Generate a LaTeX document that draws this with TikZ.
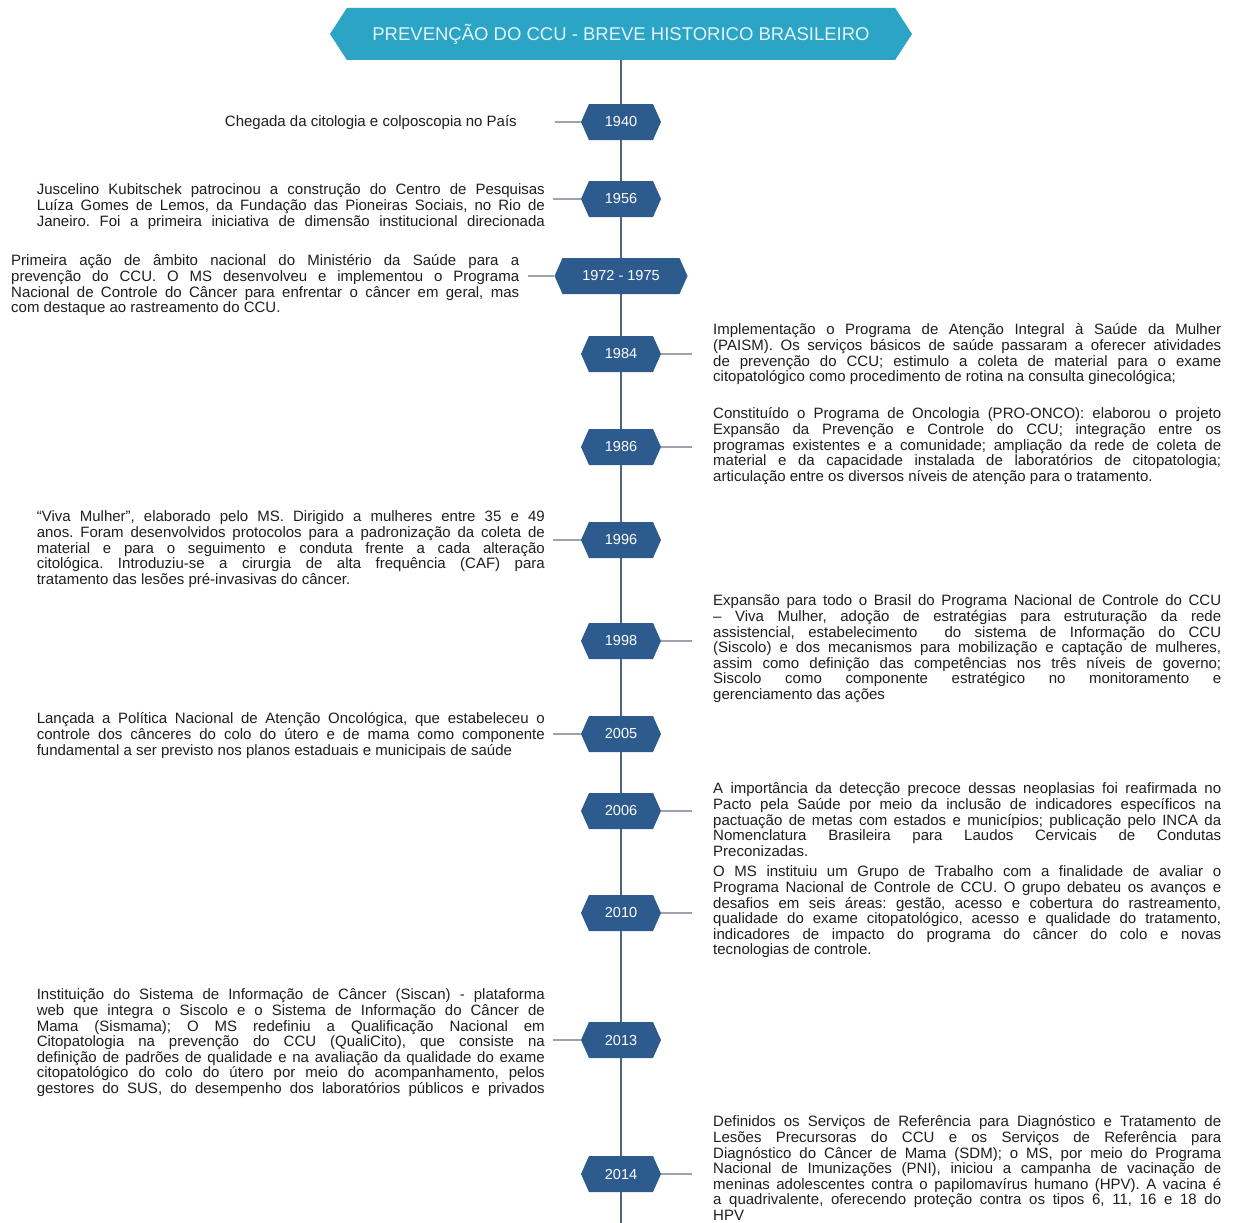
\documentclass[tikz,border=0pt]{standalone}
\usepackage{fontspec}
\setmainfont{Liberation Sans}
\usetikzlibrary{shapes.symbols}
\definecolor{titlefill}{HTML}{2BA4C6}
\definecolor{titletext}{HTML}{E2F5FA}
\definecolor{yearfill}{HTML}{2D5B8E}
\definecolor{axiscol}{HTML}{4E6282}
\definecolor{conncol}{HTML}{9AA3AE}
\definecolor{bodycol}{HTML}{1E1E1E}
\newcommand{\loosepar}{\frenchspacing \tolerance=10000 \hyphenpenalty=10000 \strut}
\begin{document}
\begin{tikzpicture}[x=1pt,y=-1pt,
  titlebox/.style={shape=signal, signal to=east and west, signal pointer angle=114, fill=titlefill, text=titletext, minimum width=582, minimum height=52, inner sep=0, font=\fontsize{18.5}{20}\selectfont},
  yearbox/.style={shape=signal, signal to=east and west, signal pointer angle=132, fill=yearfill, text=white, minimum width=80, minimum height=36, inner sep=0, font=\fontsize{14.5}{16}\selectfont},
  desc/.style={inner sep=0, text=bodycol, text width=508, align=justify, font=\fontsize{15}{15.5}\selectfont},
  single/.style={inner sep=0, text=bodycol, font=\fontsize{15}{15.5}\selectfont},
  connector/.style={draw=conncol, line width=1.5},
  axisline/.style={draw=axiscol, line width=2}]
\useasboundingbox (0,0) rectangle (1235,1223);
\fill[white] (0,0) rectangle (1235,1223);

\node[titlebox] (title) at (621,34) {PREVENÇÃO DO CCU - BREVE HISTORICO BRASILEIRO};
\coordinate (axisend) at (621,1230);
\draw[axisline] (title.south) -- (axisend);

% year boxes
\node[yearbox] (y1940) at (621,122) {1940};
\node[yearbox] (y1956) at (621,199) {1956};
\node[yearbox, minimum width=133] (y1972) at (621,276) {1972 - 1975};
\node[yearbox] (y1984) at (621,354) {1984};
\node[yearbox] (y1986) at (621,447) {1986};
\node[yearbox] (y1996) at (621,540) {1996};
\node[yearbox] (y1998) at (621,641) {1998};
\node[yearbox] (y2005) at (621,734) {2005};
\node[yearbox] (y2006) at (621,811) {2006};
\node[yearbox] (y2010) at (621,913) {2010};
\node[yearbox] (y2013) at (621,1040) {2013};
\node[yearbox] (y2014) at (621,1174) {2014};

% connector ends
\coordinate (e1940) at (555,122);
\coordinate (e1956) at (553,199);
\coordinate (e1972) at (528,276);
\coordinate (e1984) at (692,354);
\coordinate (e1986) at (692,447);
\coordinate (e1996) at (553,540);
\coordinate (e1998) at (692,641);
\coordinate (e2005) at (553,734);
\coordinate (e2006) at (692,811);
\coordinate (e2010) at (692,913);
\coordinate (e2013) at (553,1040);
\coordinate (e2014) at (692,1174);

\draw[connector] (y1940.west) -- (e1940);
\draw[connector] (y1956.west) -- (e1956);
\draw[connector] (y1972.west) -- (e1972);
\draw[connector] (y1984.east) -- (e1984);
\draw[connector] (y1986.east) -- (e1986);
\draw[connector] (y1996.west) -- (e1996);
\draw[connector] (y1998.east) -- (e1998);
\draw[connector] (y2005.west) -- (e2005);
\draw[connector] (y2006.east) -- (e2006);
\draw[connector] (y2010.east) -- (e2010);
\draw[connector] (y2013.west) -- (e2013);
\draw[connector] (y2014.east) -- (e2014);

% texts
\node[single, anchor=base east] (t1940) at (517,126) {Chegada da citologia e colposcopia no País};

\node[desc, anchor=north east] (t1956) at (545,183) {\parfillskip=0pt \loosepar Juscelino Kubitschek patrocinou a construção do Centro de Pesquisas\linebreak Luíza Gomes de Lemos, da Fundação das Pioneiras Sociais, no Rio de\linebreak Janeiro. Foi a primeira iniciativa de dimensão institucional direcionada\par};

\node[desc, anchor=north west] (t1972) at (11,254) {\loosepar Primeira ação de âmbito nacional do Ministério da Saúde para a\linebreak prevenção do CCU. O MS desenvolveu e implementou o Programa\linebreak Nacional de Controle do Câncer para enfrentar o câncer em geral, mas\linebreak com destaque ao rastreamento do CCU.};

\node[desc, anchor=north west] (t1984) at (713,323) {\loosepar Implementação o Programa de Atenção Integral à Saúde da Mulher\linebreak (PAISM). Os serviços básicos de saúde passaram a oferecer atividades\linebreak de prevenção do CCU; estimulo a coleta de material para o exame\linebreak citopatológico como procedimento de rotina na consulta ginecológica;};

\node[desc, anchor=north west] (t1986) at (713,407) {\loosepar Constituído o Programa de Oncologia (PRO-ONCO): elaborou o projeto\linebreak Expansão da Prevenção e Controle do CCU; integração entre os\linebreak programas existentes e a comunidade; ampliação da rede de coleta de\linebreak material e da capacidade instalada de laboratórios de citopatologia;\linebreak articulação entre os diversos níveis de atenção para o tratamento.};

\node[desc, anchor=north east] (t1996) at (545,510) {\loosepar “Viva Mulher”, elaborado pelo MS. Dirigido a mulheres entre 35 e 49\linebreak anos. Foram desenvolvidos protocolos para a padronização da coleta de\linebreak material e para o seguimento e conduta frente a cada alteração\linebreak citológica. Introduziu-se a cirurgia de alta frequência (CAF) para\linebreak tratamento das lesões pré-invasivas do câncer.};

\node[desc, anchor=north west] (t1998) at (713,594) {\loosepar Expansão para todo o Brasil do Programa Nacional de Controle do CCU\linebreak – Viva Mulher, adoção de estratégias para estruturação da rede\linebreak assistencial, estabelecimento\ \ do sistema de Informação do CCU\linebreak (Siscolo) e dos mecanismos para mobilização e captação de mulheres,\linebreak assim como definição das competências nos três níveis de governo;\linebreak Siscolo como componente estratégico no monitoramento e\linebreak gerenciamento das ações};

\node[desc, anchor=north east] (t2005) at (545,712) {\loosepar Lançada a Política Nacional de Atenção Oncológica, que estabeleceu o\linebreak controle dos cânceres do colo do útero e de mama como componente\linebreak fundamental a ser previsto nos planos estaduais e municipais de saúde};

\node[desc, anchor=north west] (t2006) at (713,782) {\loosepar A importância da detecção precoce dessas neoplasias foi reafirmada no\linebreak Pacto pela Saúde por meio da inclusão de indicadores específicos na\linebreak pactuação de metas com estados e municípios; publicação pelo INCA da\linebreak Nomenclatura Brasileira para Laudos Cervicais de Condutas\linebreak Preconizadas.};

\node[desc, anchor=north west] (t2010) at (713,865) {\loosepar O MS instituiu um Grupo de Trabalho com a finalidade de avaliar o\linebreak Programa Nacional de Controle de CCU. O grupo debateu os avanços e\linebreak desafios em seis áreas: gestão, acesso e cobertura do rastreamento,\linebreak qualidade do exame citopatológico, acesso e qualidade do tratamento,\linebreak indicadores de impacto do programa do câncer do colo e novas\linebreak tecnologias de controle.};

\node[desc, anchor=north east] (t2013) at (545,988) {\parfillskip=0pt \loosepar Instituição do Sistema de Informação de Câncer (Siscan) - plataforma\linebreak web que integra o Siscolo e o Sistema de Informação do Câncer de\linebreak Mama (Sismama); O MS redefiniu a Qualificação Nacional em\linebreak Citopatologia na prevenção do CCU (QualiCito), que consiste na\linebreak definição de padrões de qualidade e na avaliação da qualidade do exame\linebreak citopatológico do colo do útero por meio do acompanhamento, pelos\linebreak gestores do SUS, do desempenho dos laboratórios públicos e privados\par};

\node[desc, anchor=north west] (t2014) at (713,1115) {\loosepar Definidos os Serviços de Referência para Diagnóstico e Tratamento de\linebreak Lesões Precursoras do CCU e os Serviços de Referência para\linebreak Diagnóstico do Câncer de Mama (SDM); o MS, por meio do Programa\linebreak Nacional de Imunizações (PNI), iniciou a campanha de vacinação de\linebreak meninas adolescentes contra o papilomavírus humano (HPV). A vacina é\linebreak a quadrivalente, oferecendo proteção contra os tipos 6, 11, 16 e 18 do\linebreak HPV};
\end{tikzpicture}
\end{document}
